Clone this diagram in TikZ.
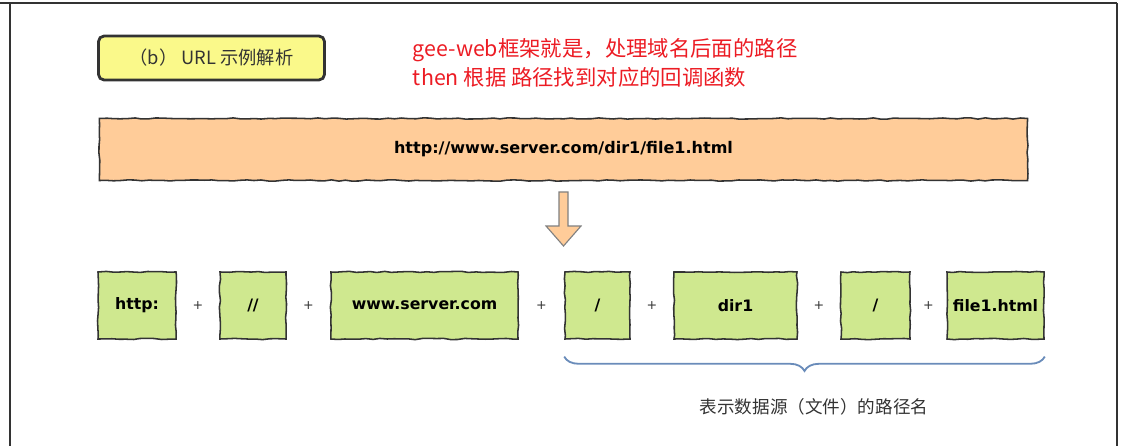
\documentclass[tikz,border=0pt]{standalone}
\usepackage{fontspec}
\usepackage{xcolor}
\usepackage{tikz}
\usetikzlibrary{positioning, calc}
\usetikzlibrary{decorations.pathmorphing, decorations.pathreplacing}

\setmainfont{DejaVu Sans}
\newfontfamily\cjkfont{Noto Sans CJK SC}
\newfontfamily\sketchfont{DejaVu Sans}

\definecolor{inkgray}{HTML}{333333}
\definecolor{titleyellow}{HTML}{FAF98A}
\definecolor{urlpeach}{HTML}{FFCC99}
\definecolor{partgreen}{HTML}{CFE88F}
\definecolor{bracegray}{HTML}{6A8CBA}
\definecolor{notered}{HTML}{EC1C24}

\begin{document}
\begin{tikzpicture}[x=0.025cm, y=-0.025cm,
    sketch/.style={draw=inkgray, line width=1.1pt, decorate,
        decoration={random steps, segment length=5pt, amplitude=0.45pt}},
    part/.style={sketch, fill=partgreen, minimum height=1.675cm, inner sep=0pt,
        font=\sketchfont\bfseries\fontsize{11.2}{13}\selectfont},
    plussign/.style={text=inkgray, font=\fontsize{9}{11}\selectfont, inner sep=1pt}]

    \pgfmathsetseed{7}
    \useasboundingbox (0,0) rectangle (1124,446);

    % Page frame
    \draw[inkgray, line width=1.4pt] (0,3) -- (1117,3);
    \draw[inkgray, line width=1.4pt] (10,3) -- (10,446);
    \draw[inkgray, line width=1.4pt] (1117,3) -- (1117,446);

    % Title
    \node[draw=inkgray, line width=2pt, rounded corners=4pt, fill=titleyellow,
          minimum width=5.65cm, minimum height=1.1cm, text=inkgray,
          font=\cjkfont\fontsize{13}{15}\selectfont] (title) at (211.5,58) {（b） URL 示例解析};

    % Red note
    \node[anchor=west, align=left, text=notered,
          font=\cjkfont\fontsize{15.2}{20.6}\selectfont] (note) at (408,62.5)
        {gee-web框架就是，处理域名后面的路径\\then 根据 路径找到对应的回调函数};

    % Whole URL
    \node[sketch, fill=urlpeach, minimum width=23.2cm, minimum height=1.55cm,
          font=\sketchfont\bfseries\fontsize{11.4}{13}\selectfont] (url) at (563.5,149.5)
        {http://www.server.com/dir1/file1.html};

    % Down arrow
    \draw[fill=urlpeach, draw=gray, line width=0.8pt]
        (559,192) -- (568,192) -- (568,226) -- (581,226) -- (563.5,246)
        -- (546,226) -- (559,226) -- cycle;

    % URL parts
    \node[part, minimum width=1.95cm]  (p1) at (137,305.5)   {http:};
    \node[part, minimum width=1.65cm]  (p2) at (253,305.5)   {//};
    \node[part, minimum width=4.675cm] (p3) at (424.5,305.5) {www.server.com};
    \node[part, minimum width=1.625cm] (p4) at (597.5,305.5) {/};
    \node[part, minimum width=3.075cm] (p5) at (735.5,305.5) {dir1};
    \node[part, minimum width=1.725cm] (p6) at (875.5,305.5) {/};
    \node[part, minimum width=2.425cm] (p7) at (995.5,305.5) {file1.html};

    \foreach \a/\b in {p1/p2, p2/p3, p3/p4, p4/p5, p5/p6, p6/p7}
        \node[plussign] (plus-\a) at ($(\a.east)!0.5!(\b.west)$) {+};

    % Path part
    \draw[bracegray, line width=1.3pt, decorate,
          decoration={brace, mirror, amplitude=0.36cm}]
        ([yshift=-0.42cm]p4.south west) -- ([yshift=-0.42cm]p7.south east);
    \node[text=inkgray, font=\cjkfont\fontsize{12.5}{15}\selectfont] (pathname) at (814,407)
        {表示数据源（文件）的路径名};

\end{tikzpicture}
\end{document}
